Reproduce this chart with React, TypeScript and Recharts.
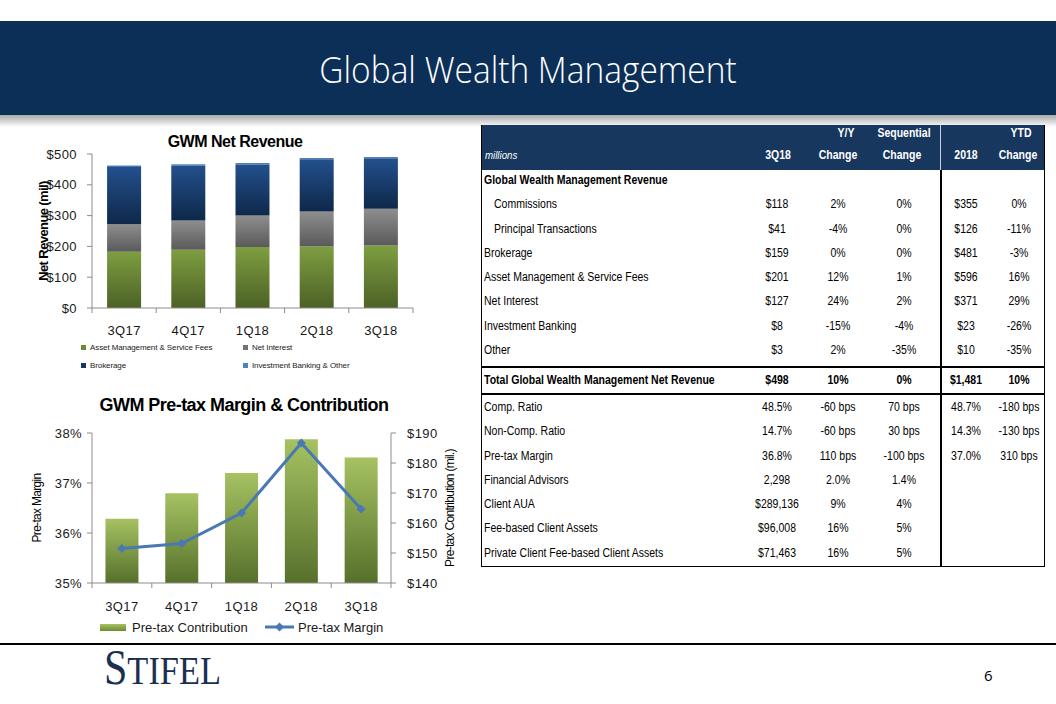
import React from "react"
import { Bar, BarChart, ComposedChart, Line, XAxis, YAxis } from "recharts"

const quarters = ["3Q17", "4Q17", "1Q18", "2Q18", "3Q18"]

// GWM net revenue ($ mil), stacked
const assetMgmt = [183, 189, 198, 200, 203]
const netInterest = [89, 95, 102, 113, 119]
const brokerage = [186, 179, 166, 170, 164]
const ibOther = [5, 4, 5, 4, 4]
const revenueTicks = [0, 100, 200, 300, 400, 500]
const revenueSeries = ["Asset Management & Service Fees", "Net Interest", "Brokerage", "Investment Banking & Other"]

// pre-tax margin (%) and contribution ($ mil)
const contribution = [161.4, 169.9, 176.7, 187.9, 181.8]
const margin = [35.69, 35.79, 36.4, 37.8, 36.48]
const marginTicks = [35, 36, 37, 38]
const contributionTicks = [140, 150, 160, 170, 180, 190]

// table
const rowLabels = [
  "Global Wealth Management Revenue",
  "Commissions",
  "Principal Transactions",
  "Brokerage",
  "Asset Management & Service Fees",
  "Net Interest",
  "Investment Banking",
  "Other",
  "Total Global Wealth Management Net Revenue",
  "Comp. Ratio",
  "Non-Comp. Ratio",
  "Pre-tax Margin",
  "Financial Advisors",
  "Client AUA",
  "Fee-based Client Assets",
  "Private Client Fee-based Client Assets",
]
const val3Q18 = ["", "$118", "$41", "$159", "$201", "$127", "$8", "$3", "$498", "48.5%", "14.7%", "36.8%", "2,298", "$289,136", "$96,008", "$71,463"]
const valYoY = ["", "2%", "-4%", "0%", "12%", "24%", "-15%", "2%", "10%", "-60 bps", "-60 bps", "110 bps", "2.0%", "9%", "16%", "16%"]
const valSeq = ["", "0%", "0%", "0%", "1%", "2%", "-4%", "-35%", "0%", "70 bps", "30 bps", "-100 bps", "1.4%", "4%", "5%", "5%"]
const val2018 = ["", "$355", "$126", "$481", "$596", "$371", "$23", "$10", "$1,481", "48.7%", "14.3%", "37.0%", "", "", "", ""]
const valYtd = ["", "0%", "-11%", "-3%", "16%", "29%", "-26%", "-35%", "10%", "-180 bps", "-130 bps", "310 bps", "", "", "", ""]

const revenueData = quarters.map((q, i) => ({
  name: q,
  am: assetMgmt[i],
  ni: netInterest[i],
  brk: brokerage[i],
  ib: ibOther[i],
}))
const pretaxData = quarters.map((q, i) => ({ name: q, contribution: contribution[i], margin: margin[i] }))

const AXIS = "#8c8c8c"
const LINE = "#4a78b2"
const NAVY = "#0c2f58"
const TICK_SIZE = 5
const ARIAL = "'Liberation Sans', Arial, sans-serif"
const NARROW_SCALE = 0.84

function QuarterTick(props: any) {
  const { x, y, payload, index, tm } = props
  const half = payload?.offset ?? 30
  const axisY = y - TICK_SIZE - tm
  return (
    <g>
      <line x1={x - half} x2={x - half} y1={axisY} y2={axisY + TICK_SIZE} stroke={AXIS} />
      {index === quarters.length - 1 && (
        <line x1={x + half} x2={x + half} y1={axisY} y2={axisY + TICK_SIZE} stroke={AXIS} />
      )}
      <text x={x} y={y} dy="0.71em" textAnchor="middle" fontSize={13} fill="#1a1a1a" fontFamily={ARIAL} letterSpacing={0.4}>
        {payload.value}
      </text>
    </g>
  )
}

function Diamond(props: any) {
  const { cx, cy, index } = props
  const r = 4.5
  return <path key={index} d={`M${cx},${cy - r}L${cx + r},${cy}L${cx},${cy + r}L${cx - r},${cy}Z`} fill={LINE} />
}

function vLabel(text: string, dx: number, size: number, bold: boolean, spacing: number) {
  return ({ viewBox }: any) => {
    const cx = viewBox.x + dx
    const cy = viewBox.y + viewBox.height / 2
    return (
      <text
        x={cx}
        y={cy}
        transform={`rotate(-90 ${cx} ${cy})`}
        textAnchor="middle"
        dominantBaseline="central"
        fontSize={size}
        fontWeight={bold ? "bold" : "normal"}
        fontFamily={ARIAL}
        letterSpacing={spacing}
        fill="#000"
      >
        {text}
      </text>
    )
  }
}

const tickStyle = { fontSize: 13, fill: "#1a1a1a", fontFamily: ARIAL, letterSpacing: 0.4 }

function RevenueChart() {
  const colors = ["url(#gAm)", "url(#gNi)", "url(#gBrk)", "url(#gIb)"]
  const swatch = ["#6a8a33", "#737373", "#17375e", "#4f81bd"]
  return (
    <>
      <div style={{ position: "absolute", left: 0, top: 130, width: 470, textAlign: "center", fontFamily: ARIAL, fontWeight: "bold", fontSize: 16, letterSpacing: -0.5, lineHeight: "24px" }}>
        GWM Net Revenue
      </div>
      <div style={{ position: "absolute", left: 0, top: 120 }}>
        <BarChart width={470} height={220} data={revenueData} margin={{ top: 34, right: 57, left: 0, bottom: 2 }} barCategoryGap="23.5%">
          <defs>
            <linearGradient id="gAm" x1="0" y1="0" x2="0" y2="1">
              <stop offset="0%" stopColor="#7e9e41" />
              <stop offset="100%" stopColor="#4c6126" />
            </linearGradient>
            <linearGradient id="gNi" x1="0" y1="0" x2="0" y2="1">
              <stop offset="0%" stopColor="#8e8e8e" />
              <stop offset="100%" stopColor="#5a5a5a" />
            </linearGradient>
            <linearGradient id="gBrk" x1="0" y1="0" x2="0" y2="1">
              <stop offset="0%" stopColor="#23508d" />
              <stop offset="100%" stopColor="#0e2849" />
            </linearGradient>
            <linearGradient id="gIb" x1="0" y1="0" x2="0" y2="1">
              <stop offset="0%" stopColor="#5a8cc8" />
              <stop offset="100%" stopColor="#3e6ba4" />
            </linearGradient>
          </defs>
          <XAxis
            dataKey="name"
            height={30}
            interval={0}
            tickLine={false}
            tickSize={TICK_SIZE}
            tickMargin={13}
            axisLine={{ stroke: AXIS }}
            tick={(p: any) => <QuarterTick {...p} tm={13} />}
          />
          <YAxis
            width={92}
            domain={[0, 500]}
            ticks={revenueTicks}
            tickFormatter={(v) => `$${v}`}
            tick={tickStyle}
            tickSize={TICK_SIZE}
            tickMargin={10}
            axisLine={{ stroke: AXIS }}
            tickLine={{ stroke: AXIS }}
            label={{ content: vLabel("Net Revenue (mil)", 43, 13, true, -0.6) }}
          />
          <Bar dataKey="am" stackId="r" fill={colors[0]} isAnimationActive={false} />
          <Bar dataKey="ni" stackId="r" fill={colors[1]} isAnimationActive={false} />
          <Bar dataKey="brk" stackId="r" fill={colors[2]} isAnimationActive={false} />
          <Bar dataKey="ib" stackId="r" fill={colors[3]} isAnimationActive={false} />
        </BarChart>
      </div>
      {revenueSeries.map((s, i) => (
        <div
          key={s}
          style={{
            position: "absolute",
            left: i % 2 === 0 ? 81 : 243,
            top: i < 2 ? 341 : 359,
            height: 12,
            display: "flex",
            alignItems: "center",
            fontFamily: ARIAL,
            fontSize: 8,
            letterSpacing: -0.1,
            color: "#1a1a1a",
            whiteSpace: "nowrap",
          }}
        >
          <span style={{ display: "inline-block", width: 5, height: 5, background: swatch[i], marginRight: 4 }} />
          {s}
        </div>
      ))}
    </>
  )
}

function PretaxChart() {
  return (
    <>
      <div style={{ position: "absolute", left: 0, top: 393, width: 488, textAlign: "center", fontFamily: ARIAL, fontWeight: "bold", fontSize: 18, letterSpacing: -0.55, lineHeight: "24px" }}>
        GWM Pre-tax Margin &amp; Contribution
      </div>
      <div style={{ position: "absolute", left: 0, top: 400 }}>
        <ComposedChart width={470} height={220} data={pretaxData} margin={{ top: 33, right: 0, left: 0, bottom: 2 }} barCategoryGap="22.5%">
          <defs>
            <linearGradient id="gContrib" x1="0" y1="0" x2="0" y2="1">
              <stop offset="0%" stopColor="#a6c262" />
              <stop offset="100%" stopColor="#56702b" />
            </linearGradient>
          </defs>
          <XAxis
            dataKey="name"
            height={35}
            interval={0}
            tickLine={false}
            tickSize={TICK_SIZE}
            tickMargin={14}
            axisLine={{ stroke: AXIS }}
            tick={(p: any) => <QuarterTick {...p} tm={14} />}
          />
          <YAxis
            yAxisId="left"
            width={92}
            domain={[35, 38]}
            ticks={marginTicks}
            tickFormatter={(v) => `${v}%`}
            tick={tickStyle}
            tickSize={TICK_SIZE}
            tickMargin={5}
            axisLine={{ stroke: AXIS }}
            tickLine={{ stroke: AXIS }}
            label={{ content: vLabel("Pre-tax Margin", 37, 12, false, -0.7) }}
          />
          <YAxis
            yAxisId="right"
            orientation="right"
            width={79}
            domain={[140, 190]}
            ticks={contributionTicks}
            tickFormatter={(v) => `$${v}`}
            tick={tickStyle}
            tickSize={TICK_SIZE}
            tickMargin={11}
            axisLine={{ stroke: AXIS }}
            tickLine={{ stroke: AXIS }}
            label={{ content: vLabel("Pre-tax Contribution (mil.)", 59, 12, false, -0.7) }}
          />
          <Bar yAxisId="right" dataKey="contribution" fill="url(#gContrib)" isAnimationActive={false} />
          <Line yAxisId="left" dataKey="margin" stroke={LINE} strokeWidth={3} dot={Diamond} activeDot={false} isAnimationActive={false} />
        </ComposedChart>
      </div>
      <div style={{ position: "absolute", left: 100, top: 617, height: 20, display: "flex", alignItems: "center", fontFamily: ARIAL, fontSize: 13, color: "#1a1a1a", whiteSpace: "nowrap" }}>
        <span style={{ display: "inline-block", width: 26, height: 7, background: "linear-gradient(#a6c262, #6d8a36)", marginRight: 6 }} />
        Pre-tax Contribution
      </div>
      <div style={{ position: "absolute", left: 265, top: 617, height: 20, display: "flex", alignItems: "center", fontFamily: ARIAL, fontSize: 13, color: "#1a1a1a", whiteSpace: "nowrap" }}>
        <svg width={29} height={10} style={{ marginRight: 4 }}>
          <line x1={0} x2={29} y1={5} y2={5} stroke={LINE} strokeWidth={3} />
          <path d="M14.5,0.5L19,5L14.5,9.5L10,5Z" fill={LINE} />
        </svg>
        Pre-tax Margin
      </div>
    </>
  )
}

function DataTable() {
  const rowY = [180, 204, 229, 253, 277, 301, 326, 350, 380, 407, 431, 456, 480, 504, 528, 553]
  const cols = [
    { c: 777, v: val3Q18 },
    { c: 838, v: valYoY },
    { c: 904, v: valSeq },
    { c: 966, v: val2018 },
    { c: 1019, v: valYtd },
  ]
  const cell = (text: string, cx: number, cy: number, extra: React.CSSProperties = {}) => (
    <div
      style={{
        position: "absolute",
        left: cx - 60,
        width: 120,
        top: cy - 9,
        height: 18,
        lineHeight: "18px",
        textAlign: "center",
        whiteSpace: "nowrap",
        transform: `scaleX(${NARROW_SCALE})`,
        transformOrigin: "center",
        ...extra,
      }}
    >
      {text}
    </div>
  )
  const hline = (y: number) => <div style={{ position: "absolute", left: 481, top: y, width: 564, height: 1.5, background: "#000" }} />
  return (
    <div style={{ position: "absolute", left: 0, top: 0, fontFamily: ARIAL, fontSize: 12.5, color: "#000" }}>
      <div style={{ position: "absolute", left: 481, top: 125, width: 564, height: 45, background: "#17375e" }} />
      <div style={{ position: "absolute", left: 940, top: 125, width: 1, height: 45, background: "#c8d0dc" }} />
      <div style={{ position: "absolute", left: 481, top: 125, width: 562, height: 441, border: "1.5px solid #000", borderTop: "none", borderBottom: "1.5px solid #000" }} />
      <div style={{ position: "absolute", left: 940, top: 170, width: 1.5, height: 397, background: "#000" }} />
      {hline(366)}
      {hline(393)}
      <div style={{ color: "#fff", fontWeight: "bold" }}>
        {cell("Y/Y", 846, 133)}
        {cell("Sequential", 904, 133)}
        {cell("YTD", 1021, 133)}
        {cell("3Q18", 778, 155)}
        {cell("Change", 838, 155)}
        {cell("Change", 902, 155)}
        {cell("2018", 966, 155)}
        {cell("Change", 1018, 155)}
        <div
          style={{
            position: "absolute",
            left: 485,
            top: 146,
            lineHeight: "18px",
            fontStyle: "italic",
            fontWeight: "normal",
            fontSize: 11.5,
            transform: `scaleX(${NARROW_SCALE})`,
            transformOrigin: "left center",
          }}
        >
          millions
        </div>
      </div>
      {rowLabels.map((label, i) => {
        const bold = i === 0 || i === 8
        return (
          <React.Fragment key={label}>
            <div
              style={{
                position: "absolute",
                left: i === 1 || i === 2 ? 494 : 484,
                top: rowY[i] - 9,
                lineHeight: "18px",
                whiteSpace: "nowrap",
                fontWeight: bold ? "bold" : "normal",
                transform: `scaleX(${NARROW_SCALE})`,
                transformOrigin: "left center",
              }}
            >
              {label}
            </div>
            {cols.map((col, j) => (col.v[i] ? <React.Fragment key={j}>{cell(col.v[i], col.c, rowY[i], { fontWeight: bold ? "bold" : "normal" })}</React.Fragment> : null))}
          </React.Fragment>
        )
      })}
    </div>
  )
}

export default function App() {
  return (
    <div style={{ position: "absolute", left: 0, top: 0, width: 1056, height: 704, background: "#fff", overflow: "hidden" }}>
      <div style={{ position: "absolute", left: 0, top: 21, width: 1056, height: 94, background: NAVY }} />
      <div style={{ position: "absolute", left: 0, top: 115, width: 1056, height: 12, background: "linear-gradient(#a9a9a9, rgba(255,255,255,0))" }} />
      <div
        style={{
          position: "absolute",
          left: 0,
          top: 46,
          width: 1056,
          textAlign: "center",
          fontFamily: "'Open Sans', sans-serif",
          fontWeight: 300,
          fontSize: 36,
          lineHeight: "48px",
          color: "#fff",
          transform: "scaleX(0.93)",
          transformOrigin: "center",
        }}
      >
        Global Wealth Management
      </div>
      <RevenueChart />
      <PretaxChart />
      <DataTable />
      <div style={{ position: "absolute", left: 0, top: 643, width: 1056, height: 1.5, background: "#000" }} />
      <div
        style={{
          position: "absolute",
          left: 104,
          top: 642,
          fontFamily: "'Liberation Serif', 'DejaVu Serif', serif",
          color: "#1b2f50",
          whiteSpace: "nowrap",
          transform: "scaleX(0.84)",
          transformOrigin: "left top",
          lineHeight: "50px",
        }}
      >
        <span style={{ fontSize: 50 }}>S</span>
        <span style={{ fontSize: 41 }}>TIFEL</span>
      </div>
      <div style={{ position: "absolute", left: 984, top: 663, fontFamily: "'Open Sans', sans-serif", fontSize: 15, lineHeight: "24px", color: "#000" }}>6</div>
    </div>
  )
}
